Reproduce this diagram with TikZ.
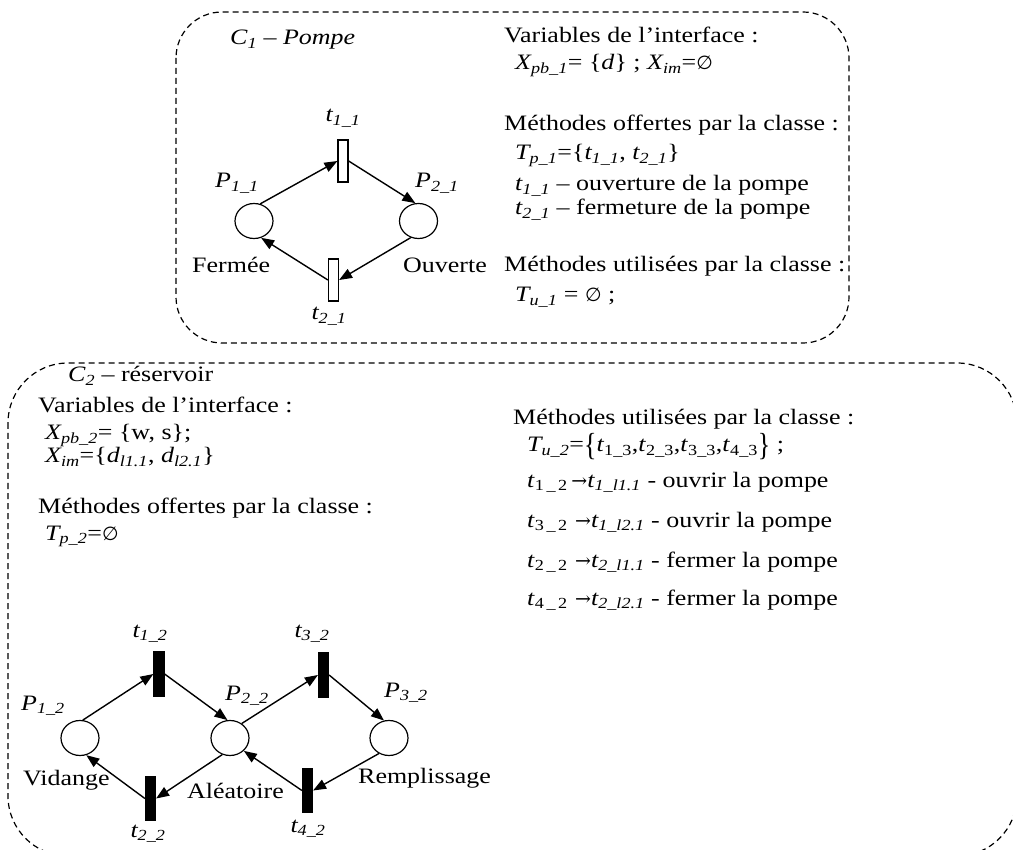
\documentclass[tikz,border=0pt]{standalone}
\usepackage{fontspec}
\usepackage{graphicx}
\setmainfont[FakeStretch=1.18]{Liberation Serif}
\newfontfamily\symf{DejaVu Serif}
\newfontfamily\symsans{DejaVu Sans}
\usetikzlibrary{shapes.geometric,arrows.meta}
\newcommand\sbx[1]{\textsubscript{#1}}
\newcommand\emptyS{{\symsans\fontsize{19}{19}\selectfont ∅}}
\newcommand\rarr{{\symf\fontsize{19}{19}\selectfont →}}
\newcommand\bigbr[1]{\raisebox{-0.15em}{\scalebox{1}[1.45]{#1}}}
\begin{document}
\begin{tikzpicture}[x=1pt,y=-1pt,
  every node/.style={font=\fontsize{22}{26}\selectfont},
  classbox/.style={draw, line width=1.2pt, dash pattern=on 6pt off 4pt},
  place/.style={draw, ellipse, minimum width=38pt, minimum height=35pt, inner sep=0pt, line width=1.2pt},
  trans/.style={draw, rectangle, minimum width=10pt, minimum height=42pt, inner sep=0pt, line width=1.2pt},
  ftrans/.style={trans, fill=black, minimum height=44pt},
  arc/.style={-{Triangle[length=13pt,width=10pt]}, line width=1.4pt},
  txt/.style={anchor=base west, inner sep=0pt},
  lbl/.style={anchor=base, inner sep=0pt}]
\useasboundingbox (0,0) rectangle (1013,850);
\clip (0,0) rectangle (1013,850);
% boxes
\draw[classbox, rounded corners=46pt] (176,12) rectangle (849,343);
\draw[classbox, rounded corners=60pt] (8,363) rectangle (1017,856);

% ---------- class C1 ----------
\node[txt] (c1) at (230,45) {\textit{C\sbx{1} – Pompe}};
\node[trans] (t11) at (343,161) {};
\node[trans] (t21) at (333.5,280) {};
\node[place] (p11) at (254,221) {};
\node[place] (p21) at (418.5,221) {};
\node[lbl] (t11l) at (343,122) {\textit{t\sbx{1\_1}}};
\node[lbl] (t21l) at (329,320) {\textit{t\sbx{2\_1}}};
\node[lbl] (p11l) at (237,188) {\textit{P\sbx{1\_1}}};
\node[lbl] (p21l) at (437,188) {\textit{P\sbx{2\_1}}};
\node[txt] (ferm) at (192,273) {Fermée};
\node[txt] (ouv) at (403,273) {Ouverte};
\draw[arc] (p11.70) -- (t11.west);
\draw[arc] (t11.east) -- (p21.100);
\draw[arc] (p21.245) -- (t21.east);
\draw[arc] (t21.west) -- (p11.293);

\node[txt] (v1) at (504,43) {Variables de l’interface :};
\node[txt] (x1) at (515,70) {\textit{X\sbx{pb\_1}}= \{\textit{d}\} ; \textit{X\sbx{im}}=\emptyS};
\node[txt] (mo1) at (504,131) {Méthodes offertes par la classe :};
\node[txt] (tp1) at (515,160) {\textit{T\sbx{p\_1}}=\{\textit{t\sbx{1\_1}}, \textit{t\sbx{2\_1}}\}};
\node[txt] (m11) at (515,191) {\textit{t\sbx{1\_1}} – ouverture de la pompe};
\node[txt] (m21) at (515,215) {\textit{t\sbx{2\_1}} – fermeture de la pompe};
\node[txt] (mu1) at (504,272) {Méthodes utilisées par la classe :};
\node[txt] (tu1) at (515,302) {\textit{T\sbx{u\_1}} = \emptyS\ ;};

% ---------- class C2 ----------
\node[txt] (c2) at (68,382) {\textit{C\sbx{2}} – réservoir};
\node[txt] (v2) at (38,413) {Variables de l’interface :};
\node[txt] (x2) at (45,440) {\textit{X\sbx{pb\_2}}= \{w, s\};};
\node[txt] (xim2) at (45,463) {\textit{X\sbx{im}}=\{\textit{d\sbx{l1.1}}, \textit{d\sbx{l2.1}}\}};
\node[txt] (mo2) at (38,513) {Méthodes offertes par la classe :};
\node[txt] (tp2) at (45,540) {\textit{T\sbx{p\_2}}=\emptyS};

\node[txt] (mu2) at (513,425) {Méthodes utilisées par la classe :};
\node[txt] (tu2) at (527,452) {\textit{T\sbx{u\_2}}=\bigbr{\{}\textit{t}\sbx{1\_3},\textit{t}\sbx{2\_3},\textit{t}\sbx{3\_3},\textit{t}\sbx{4\_3}\bigbr{\}} ;};
\node[txt] (u1) at (527,487) {\textit{t}\sbx{1\,\_\,2}\,\rarr\textit{t\sbx{1\_l1.1}} - ouvrir la pompe};
\node[txt] (u2) at (527,527) {\textit{t}\sbx{3\,\_\,2}\,\,\rarr\textit{t\sbx{1\_l2.1}} - ouvrir la pompe};
\node[txt] (u3) at (527,567) {\textit{t}\sbx{2\,\_\,2}\,\,\rarr\textit{t\sbx{2\_l1.1}} - fermer la pompe};
\node[txt] (u4) at (527,605) {\textit{t}\sbx{4\,\_\,2}\,\,\rarr\textit{t\sbx{2\_l2.1}} - fermer la pompe};

\node[ftrans] (t12) at (159,674) {};
\node[ftrans] (t32) at (323.5,675) {};
\node[ftrans] (t22) at (150.5,798.5) {};
\node[ftrans] (t42) at (307.5,790.5) {};
\node[place] (p12) at (80,738) {};
\node[place] (p22) at (230,738) {};
\node[place] (p32) at (389,738) {};
\node[lbl] (t12l) at (150,637) {\textit{t\sbx{1\_2}}};
\node[lbl] (t32l) at (312,637) {\textit{t\sbx{3\_2}}};
\node[lbl] (t22l) at (148,837) {\textit{t\sbx{2\_2}}};
\node[lbl] (t42l) at (308,832) {\textit{t\sbx{4\_2}}};
\node[lbl] (p12l) at (43,710) {\textit{P\sbx{1\_2}}};
\node[lbl] (p22l) at (247,700) {\textit{P\sbx{2\_2}}};
\node[lbl] (p32l) at (406,697) {\textit{P\sbx{3\_2}}};
\node[txt] (vid) at (23,785) {Vidange};
\node[txt] (ale) at (187,798) {Aléatoire};
\node[txt] (rem) at (358,783) {Remplissage};
\draw[arc] (p12.81) -- (t12.west);
\draw[arc] (t12.east) -- (p22.98);
\draw[arc] (p22.51) -- (t32.west);
\draw[arc] (t32.east) -- (p32.106);
\draw[arc] (p32.237) -- (t42.east);
\draw[arc] (t42.west) -- (p22.317);
\draw[arc] (p22.245) -- (t22.east);
\draw[arc] (t22.west) -- (p12.290);
\end{tikzpicture}
\end{document}
